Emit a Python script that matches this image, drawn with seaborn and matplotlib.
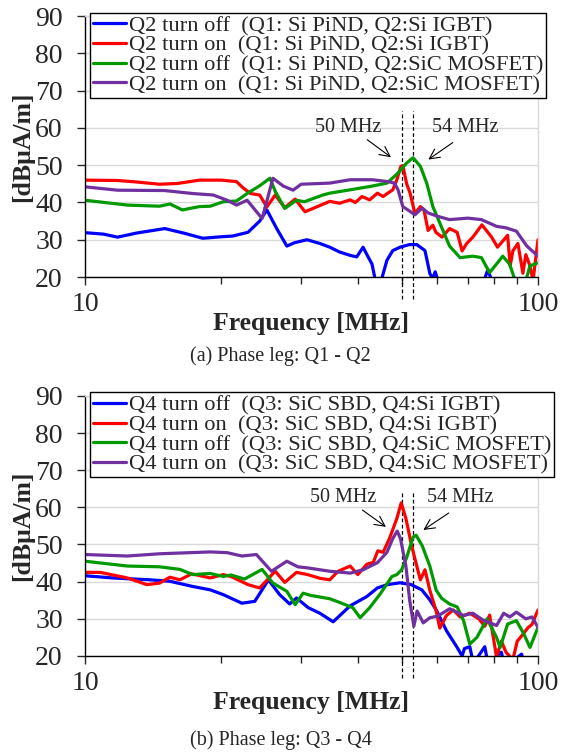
import numpy as np
import pandas as pd
import matplotlib
matplotlib.use("Agg")
import matplotlib.pyplot as plt
from matplotlib.ticker import FixedLocator, NullFormatter
import seaborn as sns

# ---------------------------------------------------------------------------
# Values (frequency in MHz, level in dBuA/m)
# ---------------------------------------------------------------------------
# (a) Phase leg Q1 - Q2
a_blue_f = [10, 11, 11.8, 13, 15, 16.5, 18.2, 20, 21.2, 22.9, 24.3, 25.2, 26.5, 27.9, 29.0,
            30.9, 33.0, 34.7, 36.5, 38.5, 39.8, 41.1, 42.0, 43.0, 43.6, 44.5, 45.3, 46.4, 47.8,
            49.6, 52, 54, 56.3, 57.7, 58.5, 59.3, 60.5, 65, 72, 76, 77.5, 79, 82, 90, 100]
a_blue_db = [31.9, 31.5, 30.7, 31.8, 33, 31.8, 30.4, 30.8, 31, 32, 35, 38, 33, 28.3, 29.2,
             30, 29, 28, 26.7, 25.8, 25.4, 28, 25.8, 23.5, 20, 18, 20, 24.5, 27.1,
             28, 28.7, 28.7, 27.1, 21, 19.5, 21.4, 18, 15, 15, 19, 22, 19, 15, 15, 15]

a_red_f = [10, 11.8, 13, 14.6, 16, 17.9, 20, 21.6, 22.3, 23.2, 24.3, 25.2, 26.3, 27.6, 29.1,
           30.6, 32, 34.7, 36.5, 38.5, 39.5, 40.9, 42.5, 44.2, 45.5, 46.6, 47.8, 48.8, 49.8,
           50.3, 51.3, 52.2, 53.5, 55, 56, 57.2, 58.6, 59.5, 61.4, 63.8, 66.3, 68, 69.6, 71.8,
           75.2, 79, 81.4, 85.7, 86.8, 88, 90.3, 92.6, 94, 96, 97.5, 100]
a_red_db = [46, 45.9, 45.5, 44.9, 45.1, 46, 46, 45.6, 44, 42.4, 42, 38.8, 42, 38.6, 40.9,
            37.5, 38.5, 40.3, 39.8, 40.7, 40, 41.6, 40.7, 42.5, 41.6, 42.5, 43.4, 46.1, 49.7,
            49.9, 45, 42.5, 37, 38.9, 38, 32.5, 33.9, 32, 30.7, 33, 32, 27, 29, 30.7,
            34, 30.7, 28, 31.2, 23, 27, 29, 21, 26, 23, 19, 30]

a_green_f = [10, 12.4, 14.6, 15.4, 16.4, 17.9, 18.9, 20.2, 21.6, 22.8, 24.3, 25.6, 26.3, 27.6,
             29.3, 30.5, 33.5, 34.7, 38.5, 42.6, 46.4, 49.1, 51.3, 53.0, 55, 56.8, 58.6, 60.7,
             63.8, 67.3, 71.8, 75, 78.2, 81, 83.6, 86.6, 88.5, 91, 94, 96, 100]
a_green_db = [40.6, 39.3, 39, 39.6, 38, 38.9, 39, 40.2, 40.4, 42.4, 44.5, 46.5, 43, 38.4,
              40.6, 40.2, 42, 42.5, 43.4, 44.3, 45.2, 47.9, 50.6, 52, 49.7, 45.2, 38.9, 34.5,
              28.3, 25.2, 25.6, 25.2, 21.2, 23.5, 25.6, 23.4, 20, 18, 19, 23, 23.8]

a_purple_f = [10, 11.8, 15, 17.3, 19.2, 20.6, 21.6, 22.8, 24.6, 26.0, 27.4, 28.8, 30, 34.7,
              38.5, 43.1, 46.6, 48.2, 49.1, 50.3, 52.2, 53.5, 55.5, 57.2, 60, 63.8, 70, 75,
              81, 85, 89.6, 94.5, 100]
a_purple_db = [44.2, 43.3, 43.2, 42.4, 42, 40.6, 39.3, 40.6, 35.7, 46.5, 44.4, 43.3, 44.9, 45.2,
               46.1, 46.1, 45.6, 45.2, 43.4, 38.9, 37.6, 36.7, 38.5, 37.2, 36.3, 35.4, 35.8, 35.4,
               33.6, 33.2, 32.3, 28.3, 25.6]

# (b) Phase leg Q3 - Q4
b_blue_f = [10, 11.5, 13.9, 15.4, 17.3, 18.9, 20.2, 22.2, 23.7, 24.6, 25.4, 26.9, 28.3, 29.3,
            31.1, 33, 35.3, 38.5, 41.9, 44.2, 46.5, 49.6, 52.5, 55.4, 57.7, 59.6, 62.8, 66.3,
            68, 68.8, 70.7, 72, 76.3, 77.5, 83, 84.5, 92, 93.5, 100]
b_blue_db = [41.6, 41, 40.5, 40.1, 38.7, 37.8, 36.5, 34.2, 34.7, 37.8, 40.5, 36.5, 34, 35.6,
             33, 31.5, 29.2, 33.5, 36, 38.3, 39.2, 39.7, 39.2, 37.8, 35.1, 32.4, 26.8, 22.3,
             20, 22, 22.5, 18, 22.5, 18, 21, 17, 20.5, 17, 17]

b_red_f = [10, 10.8, 12.4, 13.7, 14.6, 15.4, 16.2, 17.2, 18.9, 20.2, 21, 22.9, 24.3, 26.3,
           27.6, 29.3, 31, 33, 34.7, 36.2, 38.5, 40, 41.9, 43.3, 44.3, 45.5, 47, 48.8, 49.9,
           51.1, 52.6, 54, 55, 56.3, 57.7, 59.6, 60.7, 62.8, 65, 67.3, 70.7, 74, 76.3, 78.2,
           81, 83, 85, 88, 90, 92.6, 95, 97, 100]
b_red_db = [42.5, 42.5, 41, 39.2, 39.6, 41.2, 40.5, 42.1, 41, 41.9, 41.4, 39.2, 38.3, 42.8,
            39.8, 42.5, 41.9, 40.9, 40.5, 42.8, 44.2, 41.9, 44.7, 45.2, 48.3, 47.9, 51.6, 57, 61.2,
            57, 49.7, 44.2, 40.5, 43.2, 37.7, 32.1, 27.5, 30.9, 32.4, 30.5, 31.5, 30, 28, 31,
            19.7, 24, 21, 19, 24, 25.8, 27.6, 28.5, 32.4]

b_green_f = [10, 12.4, 14.6, 16.2, 17.3, 18.9, 20.2, 21, 22.5, 24.6, 26, 27.9, 29.1, 30.3,
             31.5, 34.7, 36.5, 39, 40.5, 42.5, 44.9, 47.6, 48.8, 50, 51.3, 53, 53.8, 55.5,
             57.7, 59.6, 61.3, 63.8, 66.3, 68.5, 70.7, 73.3, 77.2, 81, 82.5, 85.7, 89.6, 93,
             96, 100]
b_green_db = [45.5, 44.2, 44, 43.3, 41.9, 42.2, 41.4, 41.8, 40.7, 43.3, 39.6, 37.4, 33.8, 36.9,
              36.3, 35.4, 34.4, 33, 30.3, 33, 36.8, 41.4, 41.9, 43.2, 46.5, 52, 52.5, 49.7,
              44.2, 37.7, 35.5, 34, 33.2, 29.5, 23.2, 25, 30, 25, 22.3, 28.6, 29.5, 26,
              22.3, 27.7]

b_purple_f = [10, 12.4, 14.6, 18.9, 20.6, 22.2, 23.9, 25.8, 27.9, 29.5, 31, 34.7, 38.5, 41.1,
              44.2, 46.4, 47.8, 48.9, 49.7, 51.1, 52.1, 53.2, 54.1, 55.8, 57.7, 60, 63.8, 68.5,
              71.8, 75.6, 81, 84, 86.6, 89.6, 94, 97, 100]
b_purple_db = [47.3, 46.9, 47.5, 48, 47.8, 46.9, 47.3, 42.8, 45.5, 44, 43.7, 42.8, 42.3, 43.2,
               45.1, 47.9, 51.6, 53.6, 51.6, 44.2, 34.9, 28, 32.1, 28.9, 30.3, 30.7, 32.7, 30.9,
               31.5, 29.7, 28.2, 31.5, 30.5, 31.8, 30, 30.5, 27.7]

labels_a = ["Q2 turn off  (Q1: Si PiND, Q2:Si IGBT)",
            "Q2 turn on  (Q1: Si PiND, Q2:Si IGBT)",
            "Q2 turn off  (Q1: Si PiND, Q2:SiC MOSFET)",
            "Q2 turn on  (Q1: Si PiND, Q2:SiC MOSFET)"]
labels_b = ["Q4 turn off  (Q3: SiC SBD, Q4:Si IGBT)",
            "Q4 turn on  (Q3: SiC SBD, Q4:Si IGBT)",
            "Q4 turn off  (Q3: SiC SBD, Q4:SiC MOSFET)",
            "Q4 turn on  (Q3: SiC SBD, Q4:SiC MOSFET)"]
captions = ["(a) Phase leg: Q1 - Q2", "(b) Phase leg: Q3 - Q4"]
marker_freqs = [50, 53]
marker_texts = ["50 MHz", "54 MHz"]
colors = ["#0000FF", "#FF0000", "#009A00", "#7030A0"]

panels = [
    (labels_a, [(a_blue_f, a_blue_db), (a_red_f, a_red_db),
                (a_green_f, a_green_db), (a_purple_f, a_purple_db)]),
    (labels_b, [(b_blue_f, b_blue_db), (b_red_f, b_red_db),
                (b_green_f, b_green_db), (b_purple_f, b_purple_db)]),
]

# annotation positions (data coords): text, arrow tail, arrow head
annot = [
    [((38.1, 60.2), (41.5, 57.3), (47.9, 51.7)), ((69.0, 60.2), (65.6, 56.5), (56.6, 51.1))],
    [((37.1, 62.7), (40.5, 59.7), (46.7, 54.3)), ((67.3, 62.7), (64.3, 58.9), (55.2, 53.5))],
]

sns.set_style("ticks")
plt.rcParams["font.family"] = ["Liberation Serif", "DejaVu Serif"]

fig = plt.figure(figsize=(5.61, 7.54), dpi=100)
ax_rects = [[0.1515, 0.6326, 0.8075, 0.346], [0.1515, 0.130, 0.8075, 0.345]]
caption_y = [0.528, 0.0186]

for i, (labels, series) in enumerate(panels):
    ax = fig.add_axes(ax_rects[i])
    frames = []
    for lab, (f, db) in zip(labels, series):
        assert len(f) == len(db), lab
        frames.append(pd.DataFrame({"freq": f, "dB": db, "series": lab}))
    df = pd.concat(frames, ignore_index=True)
    sns.lineplot(data=df, x="freq", y="dB", hue="series", hue_order=labels,
                 palette=colors, estimator=None, sort=False, linewidth=2.3,
                 legend=False, ax=ax)
    ax.set_xscale("log")
    ax.set_xlim(10, 100)
    ax.set_ylim(20, 90)
    ax.set_yticks(range(20, 91, 10))
    ax.yaxis.grid(True, color="#d9d9d9", linewidth=1.0)
    ax.set_axisbelow(True)
    ax.xaxis.set_major_locator(FixedLocator([10, 100]))
    ax.set_xticklabels(["10", "100"])
    ax.xaxis.set_minor_locator(FixedLocator(range(20, 100, 10)))
    ax.xaxis.set_minor_formatter(NullFormatter())
    ax.tick_params(axis="y", which="major", direction="out", length=6, width=1,
                   labelsize=20, pad=10)
    ax.tick_params(axis="x", which="major", direction="out", length=6, width=1,
                   labelsize=20, pad=5)
    ax.tick_params(axis="x", which="minor", direction="out", length=5, width=1)
    for s in ["left", "bottom"]:
        ax.spines[s].set_color("black")
        ax.spines[s].set_linewidth(1.0)
    for s in ["top", "right"]:
        ax.spines[s].set_color("#d9d9d9")
        ax.spines[s].set_linewidth(1.0)

    ax.set_xlabel("Frequency [MHz]", fontsize=18.5, fontweight="bold", labelpad=-4)
    ax.set_ylabel("[dBμA/m]", fontsize=18.5, fontweight="bold", labelpad=1)

    for fm in marker_freqs:
        ax.plot([fm, fm], [14, 64.5], color="black", linestyle=(0, (3, 2)),
                linewidth=0.9, clip_on=False, zorder=1)
    for txt, (tpos, tail, head) in zip(marker_texts, annot[i]):
        ax.text(tpos[0], tpos[1], txt, fontsize=14.5, ha="center", va="center")
        ax.annotate("", xy=head, xytext=tail,
                    arrowprops=dict(arrowstyle="->", color="black", lw=0.8,
                                    mutation_scale=18))

    handles = [plt.Line2D([], [], color=c, linewidth=2.3) for c in colors]
    leg = ax.legend(handles, labels, loc="upper left", bbox_to_anchor=(0.012, 1.013),
                    frameon=True, fancybox=False, edgecolor="black", framealpha=1,
                    fontsize=16.2, handlelength=1.45, handletextpad=0.15,
                    labelspacing=-0.05, borderpad=0.12, borderaxespad=0)
    leg.get_frame().set_linewidth(1.0)

    fig.text(0.5, caption_y[i], captions[i], fontsize=14.5, ha="center", va="center")

fig.savefig("out.png", dpi=100)
